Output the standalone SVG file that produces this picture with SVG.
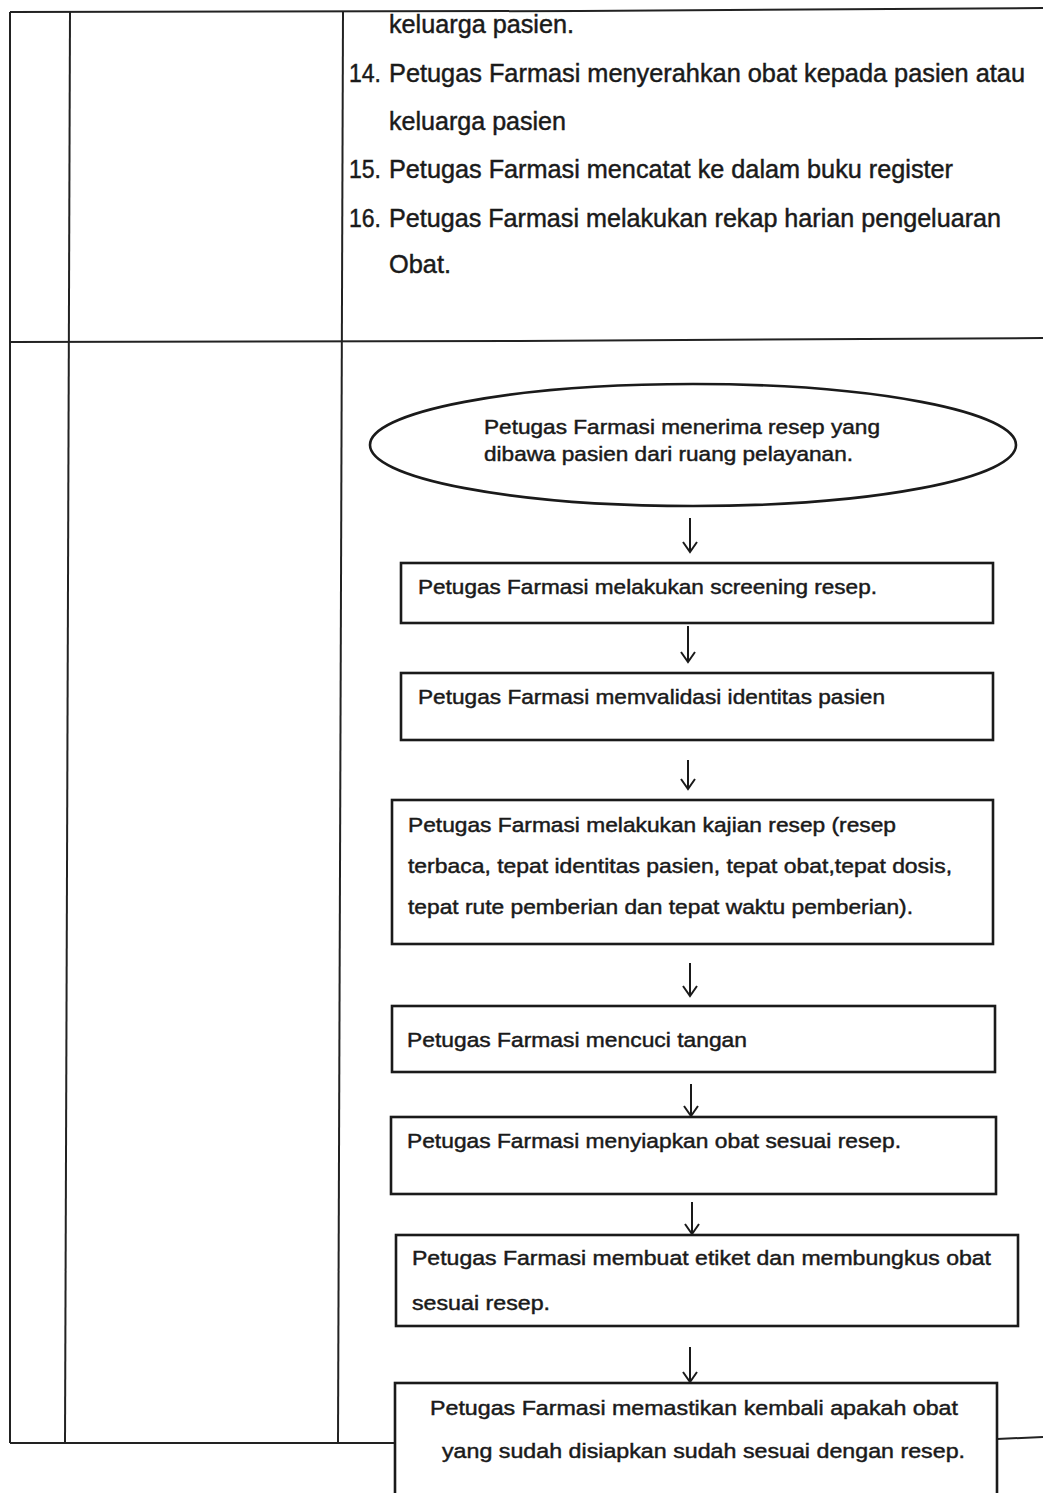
<svg xmlns="http://www.w3.org/2000/svg" width="1043" height="1493" viewBox="0 0 1043 1493">
<style>
  .tl { fill: none; stroke: #222; stroke-width: 2; }
  .box { fill: #fff; stroke: #1a1a1a; stroke-width: 2.6; }
  .t { font-family: "Liberation Sans", Arial, sans-serif; fill: #1a1a1a; stroke: #1a1a1a; stroke-width: 0.45; }
  .top { font-size: 25px; }
  .fc { font-size: 20.5px; }
  .arr { fill: none; stroke: #1a1a1a; stroke-width: 2; }
</style>
<defs>
  <marker id="ah" markerUnits="userSpaceOnUse" markerWidth="20" markerHeight="20" refX="14" refY="10" orient="auto" viewBox="0 0 20 20">
    <path d="M4,3 L14,10 L4,17" fill="none" stroke="#1a1a1a" stroke-width="2"/>
  </marker>
</defs>
<rect width="1043" height="1493" fill="#fff"/>

<g id="table">
  <path class="tl" d="M10,12 L580,11 L1043,8"/>
  <path class="tl" d="M10,342 L520,341 L1043,338"/>
  <path class="tl" d="M10,12 L10,1443"/>
  <path class="tl" d="M70,12 L65,1443"/>
  <path class="tl" d="M343,12 L338,1443"/>
  <path class="tl" d="M10,1443 L395,1443"/>
  <path class="tl" d="M997,1439 L1043,1437"/>
</g>

<g id="top-text" class="t top">
  <text x="389" y="33" textLength="185" lengthAdjust="spacingAndGlyphs">keluarga pasien.</text>
  <text x="349" y="82" textLength="32" lengthAdjust="spacingAndGlyphs">14.</text>
  <text x="389" y="82" textLength="636" lengthAdjust="spacingAndGlyphs">Petugas Farmasi menyerahkan obat kepada pasien atau</text>
  <text x="389" y="130" textLength="177" lengthAdjust="spacingAndGlyphs">keluarga pasien</text>
  <text x="349" y="178" textLength="32" lengthAdjust="spacingAndGlyphs">15.</text>
  <text x="389" y="178" textLength="564" lengthAdjust="spacingAndGlyphs">Petugas Farmasi mencatat ke dalam buku register</text>
  <text x="349" y="227" textLength="32" lengthAdjust="spacingAndGlyphs">16.</text>
  <text x="389" y="227" textLength="612" lengthAdjust="spacingAndGlyphs">Petugas Farmasi melakukan rekap harian pengeluaran</text>
  <text x="389" y="273" textLength="62" lengthAdjust="spacingAndGlyphs">Obat.</text>
</g>

<g id="n0">
  <ellipse cx="693" cy="445" rx="323" ry="61" class="box"/>
  <text class="t fc" x="484" y="434" textLength="396" lengthAdjust="spacingAndGlyphs">Petugas Farmasi menerima resep yang</text>
  <text class="t fc" x="484" y="461" textLength="369" lengthAdjust="spacingAndGlyphs">dibawa pasien dari ruang pelayanan.</text>
</g>

<g id="n1">
  <rect x="401" y="563" width="592" height="60" class="box"/>
  <text class="t fc" x="418" y="594" textLength="459" lengthAdjust="spacingAndGlyphs">Petugas Farmasi melakukan screening resep.</text>
</g>

<g id="n2">
  <rect x="401" y="673" width="592" height="67" class="box"/>
  <text class="t fc" x="418" y="704" textLength="467" lengthAdjust="spacingAndGlyphs">Petugas Farmasi memvalidasi identitas pasien</text>
</g>

<g id="n3">
  <rect x="392" y="800" width="601" height="144" class="box"/>
  <text class="t fc" x="408" y="832" textLength="488" lengthAdjust="spacingAndGlyphs">Petugas Farmasi melakukan kajian resep (resep</text>
  <text class="t fc" x="408" y="873" textLength="544" lengthAdjust="spacingAndGlyphs">terbaca,  tepat identitas pasien, tepat obat,tepat dosis,</text>
  <text class="t fc" x="408" y="914" textLength="505" lengthAdjust="spacingAndGlyphs">tepat rute pemberian dan tepat waktu pemberian).</text>
</g>

<g id="n4">
  <rect x="392" y="1006" width="603" height="66" class="box"/>
  <text class="t fc" x="407" y="1047" textLength="340" lengthAdjust="spacingAndGlyphs">Petugas Farmasi mencuci tangan</text>
</g>

<g id="n5">
  <rect x="391" y="1117" width="605" height="77" class="box"/>
  <text class="t fc" x="407" y="1148" textLength="494" lengthAdjust="spacingAndGlyphs">Petugas Farmasi menyiapkan obat sesuai resep.</text>
</g>

<g id="n6">
  <rect x="396" y="1235" width="622" height="91" class="box"/>
  <text class="t fc" x="412" y="1265" textLength="579" lengthAdjust="spacingAndGlyphs">Petugas Farmasi membuat etiket dan membungkus obat</text>
  <text class="t fc" x="412" y="1310" textLength="138" lengthAdjust="spacingAndGlyphs">sesuai resep.</text>
</g>

<g id="n7">
  <rect x="395" y="1383" width="602" height="130" class="box"/>
  <text class="t fc" x="430" y="1415" textLength="528" lengthAdjust="spacingAndGlyphs">Petugas Farmasi memastikan kembali apakah obat</text>
  <text class="t fc" x="442" y="1458" textLength="523" lengthAdjust="spacingAndGlyphs">yang sudah disiapkan sudah sesuai dengan resep.</text>
</g>

<g id="connectors">
  <line class="arr" x1="690" y1="518" x2="690" y2="552" marker-end="url(#ah)"/>
  <line class="arr" x1="688" y1="626" x2="688" y2="662" marker-end="url(#ah)"/>
  <line class="arr" x1="688" y1="760" x2="688" y2="789" marker-end="url(#ah)"/>
  <line class="arr" x1="690" y1="963" x2="690" y2="996" marker-end="url(#ah)"/>
  <line class="arr" x1="691" y1="1084" x2="691" y2="1116" marker-end="url(#ah)"/>
  <line class="arr" x1="692" y1="1202" x2="692" y2="1234" marker-end="url(#ah)"/>
  <line class="arr" x1="690" y1="1347" x2="690" y2="1382" marker-end="url(#ah)"/>
</g>
</svg>
